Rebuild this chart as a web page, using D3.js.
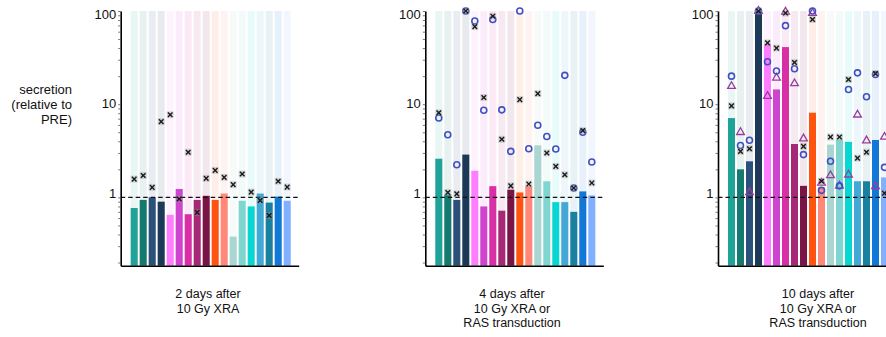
<!DOCTYPE html>
<html>
<head>
  <meta charset="utf-8">
  <title>Secretion relative to PRE</title>
  <script src="https://d3js.org/d3.v7.min.js"></script>
  <style>
    body { margin: 0; background: #fff; }
    text { font-family: "Liberation Sans", Arial, Helvetica, sans-serif; fill: #111; }
  </style>
</head>
<body>
<script>
  // 18 secreted factors, one column each (same order in every panel)
  const factors = d3.range(1, 19).map(String);
  const colors = ["#1fa398", "#147a70", "#2b5079", "#1c3957", "#ff7dff", "#cf44cf",
                  "#d92fa6", "#a82878", "#791447", "#ff5410", "#ff8878", "#a9d6d0",
                  "#7fd6d0", "#08d6d0", "#42a8d6", "#1a80a0", "#1178d8", "#80b0ff"];

  const yTicks = [1, 10, 100];

  // 2 days after XRA
  const bars2 = [0.77, 0.94, 1.0, 0.90, 0.65, 1.23, 0.66, 0.94, 1.04, 0.94, 1.10, 0.38, 0.92, 0.80, 1.10, 0.88, 1.02, 0.92];
  const cross2 = [1.57, 1.72, 1.28, 6.5, 7.7, 0.96, 3.05, 0.69, 1.60, 1.95, 1.64, 1.37, 1.78, 1.14, 0.93, 0.64, 1.49, 1.29];

  // 4 days after XRA or RAS
  const bars4 = [2.60, 1.07, 0.94, 2.88, 1.93, 0.80, 1.32, 0.72, 1.21, 1.13, 1.31, 3.62, 1.49, 0.89, 0.89, 0.70, 1.16, 1.05];
  const cross4 = [8.1, 1.13, 1.09, 100, 68, 11.8, 88, 4.2, 1.33, 11.2, 1.39, 13.0, 3.0, 2.15, 1.75, 1.26, 5.2, 1.43];
  const circle4 = [7.1, 4.7, 2.24, 100, 78, 8.6, 81, 8.7, 3.12, 100, 3.33, 5.95, 4.5, 3.3, 20.4, 1.26, 5.0, 2.4];

  // 10 days after XRA or RAS
  const bars10 = [7.1, 2.0, 2.44, 100, 44, 14.4, 41, 3.74, 1.33, 8.1, 1.28, 3.68, 4.17, 3.94, 1.49, 1.49, 4.13, 1.64];
  const cross10 = [9.6, 3.12, 3.33, 100, 45.5, 40, 95, 28, 3.53, 81, 1.49, 4.45, 4.45, 18.4, 2.64, 3.05, 21.3, 1.11];
  const circle10 = [20, 3.6, 4.1, 100, 28.5, 22.7, 69.6, 24, 2.88, 100, 1.19, 2.44, 1.33, 14.4, 21.7, 12, 20.8, 2.1];
  const triangle10 = [15.6, 5.0, 1.13, 100, 12.2, 19.2, 98, 16.7, 4.27, 95, 1.43, 1.72, 1.33, 1.75, 7.7, 4.07, 1.31, 4.45];

  const panels = [
    { axisX: 120.7, labelX: 208, title: ["2 days after", "10 Gy XRA"], bars: bars2, cross: cross2 },
    { axisX: 425.3, labelX: 512, title: ["4 days after", "10 Gy XRA or", "RAS transduction"], bars: bars4, cross: cross4, circle: circle4 },
    { axisX: 718, labelX: 818, title: ["10 days after", "10 Gy XRA or", "RAS transduction"], bars: bars10, cross: cross10, circle: circle10, triangle: triangle10 }
  ];

  const W = 886, H = 337;
  const plotTop = 11, plotBottom = 265.7;

  const svg = d3.select("body").append("svg")
    .attr("width", W).attr("height", H);

  const y = d3.scaleLog().domain([0.185, 100]).range([plotBottom, plotTop]).clamp(true);
  // tick labels in the original sit a little off their ticks
  const yLabel = d3.scaleLog().domain([1, 100]).range([193, 14.5]);

  // minor ticks 1..9 per decade inside the domain
  const minorTicks = [];
  [0.1, 1, 10].forEach(dec => d3.range(1, 10).forEach(k => {
    const v = +(k * dec).toFixed(3);
    if (v >= 0.185 && v <= 100) minorTicks.push(v);
  }));
  minorTicks.push(100);

  // y title
  svg.append("text")
    .attr("text-anchor", "end")
    .attr("font-size", 13)
    .selectAll("tspan")
    .data(["secretion", "(relative to", "PRE)"])
    .join("tspan")
    .attr("x", 72)
    .attr("y", (d, i) => 93.5 + i * 15)
    .text(d => d);

  panels.forEach(p => {
    const g = svg.append("g");
    const x = d3.scaleBand()
      .domain(factors)
      .range([p.axisX + 9, p.axisX + 171])
      .paddingInner(0.22)
      .paddingOuter(0.11);

    // pale background column behind each bar
    g.selectAll("rect.bg").data(factors).join("rect")
      .attr("class", "bg")
      .attr("x", d => x(d))
      .attr("y", plotTop)
      .attr("width", x.bandwidth())
      .attr("height", plotBottom - plotTop)
      .attr("fill", (d, i) => colors[i])
      .attr("fill-opacity", 0.1);

    g.selectAll("rect.bar").data(p.bars).join("rect")
      .attr("class", "bar")
      .attr("x", (d, i) => x(factors[i]))
      .attr("y", d => y(d))
      .attr("width", x.bandwidth())
      .attr("height", d => plotBottom - y(d))
      .attr("fill", (d, i) => colors[i]);

    // reference line at 1
    g.append("line")
      .attr("x1", p.axisX).attr("x2", p.axisX + 178)
      .attr("y1", y(1)).attr("y2", y(1))
      .attr("stroke", "#111").attr("stroke-width", 1.4)
      .attr("stroke-dasharray", "4.5,3");

    // y axis
    const ax = g.append("g")
      .attr("transform", `translate(${p.axisX},0)`)
      .call(d3.axisLeft(y).tickValues(minorTicks).tickSize(2.5).tickSizeOuter(0).tickFormat(""));
    ax.select(".domain").attr("stroke-width", 1.6);
    ax.selectAll(".tick line").attr("stroke", "#555").attr("stroke-width", 0.8);

    g.selectAll("text.ytick").data(yTicks).join("text")
      .attr("class", "ytick")
      .attr("x", p.axisX - 4.5)
      .attr("y", d => yLabel(d))
      .attr("dy", "0.36em")
      .attr("text-anchor", "end")
      .attr("font-size", 13)
      .text(d => d);

    // x axis line
    const xLine = d3.scaleLinear().domain([0, 1]).range([p.axisX, p.axisX + 178]);
    const xa = g.append("g")
      .attr("transform", `translate(0,${plotBottom})`)
      .call(d3.axisBottom(xLine).tickValues([]).tickSizeOuter(0));
    xa.select(".domain").attr("stroke-width", 1.6);

    const cx = i => x(factors[i]) + x.bandwidth() / 2;

    if (p.triangle) {
      g.selectAll("path.tri").data(p.triangle).join("path")
        .attr("class", "tri")
        .attr("transform", (d, i) => `translate(${cx(i)},${y(d)})`)
        .attr("d", d3.symbol(d3.symbolTriangle, 26))
        .attr("fill", "none")
        .attr("stroke", "#9a3c9c")
        .attr("stroke-width", 1.3);
    }
    if (p.circle) {
      g.selectAll("circle.ras").data(p.circle).join("circle")
        .attr("class", "ras")
        .attr("cx", (d, i) => cx(i))
        .attr("cy", d => y(d))
        .attr("r", 3)
        .attr("fill", "none")
        .attr("stroke", "#3f4fc6")
        .attr("stroke-width", 1.6);
    }
    const crosses = g.selectAll("g.cross").data(p.cross).join("g")
      .attr("class", "cross")
      .attr("transform", (d, i) => `translate(${cx(i)},${y(d)})`);
    crosses.append("rect")
      .attr("x", -3.5).attr("y", -3.5).attr("width", 7).attr("height", 7)
      .attr("fill", "#999").attr("fill-opacity", 0.35);
    crosses.append("path")
      .attr("d", "M-2.3,-2.3L2.3,2.3M-2.3,2.3L2.3,-2.3")
      .attr("stroke", "#1a1a1a").attr("stroke-width", 1.4);

    // panel caption
    g.append("text")
      .attr("text-anchor", "middle")
      .attr("font-size", 12.5)
      .selectAll("tspan")
      .data(p.title)
      .join("tspan")
      .attr("x", p.labelX)
      .attr("y", (d, i) => 298 + i * 14.5)
      .text(d => d);
  });
</script>
</body>
</html>
